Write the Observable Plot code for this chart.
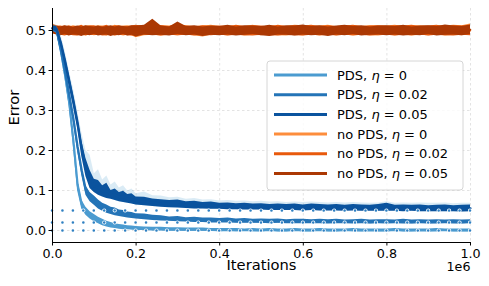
<!DOCTYPE html>
<html><head><meta charset="utf-8">
<script src="https://cdn.jsdelivr.net/npm/d3@7"></script>
<script src="https://cdn.jsdelivr.net/npm/@observablehq/plot@0.6"></script>
<style>body{margin:0;background:#fff} svg{display:block}
g[aria-label="x-axis tick label"], g[aria-label="y-axis tick label"]{font-size:12.7px !important;}
</style>
</head><body><div id="chart"></div>
<script>
// x values (iterations)
const iterations = [0,10000,20000,30000,40000,50000,60000,70000,80000,90000,
100000,110000,120000,130000,140000,150000,160000,170000,180000,190000,
200000,220000,240000,260000,280000,300000,320000,340000,360000,380000,
400000,420000,440000,460000,480000,500000,520000,540000,560000,580000,
600000,620000,640000,660000,680000,700000,720000,740000,760000,780000,
800000,820000,840000,860000,880000,900000,920000,940000,960000,980000,
1000000];

// no PDS, eta = 0
const noPds00Hi = [0.517,0.512,0.510,0.511,0.509,0.512,0.510,0.509,0.511,0.512,
0.510,0.512,0.511,0.509,0.510,0.513,0.510,0.511,0.512,0.510,
0.512,0.511,0.514,0.512,0.511,0.515,0.512,0.510,0.511,0.513,
0.510,0.512,0.511,0.510,0.513,0.509,0.512,0.511,0.510,0.513,
0.512,0.510,0.511,0.513,0.509,0.512,0.511,0.510,0.512,0.511,
0.511,0.513,0.510,0.511,0.512,0.510,0.512,0.511,0.513,0.512,
0.516];
const noPds00Lo = [0.497,0.491,0.489,0.488,0.487,0.490,0.487,0.488,0.486,0.489,
0.487,0.488,0.489,0.486,0.488,0.487,0.489,0.486,0.488,0.487,
0.482,0.487,0.488,0.486,0.489,0.487,0.488,0.487,0.484,0.488,
0.488,0.487,0.489,0.486,0.488,0.487,0.489,0.487,0.486,0.488,
0.487,0.489,0.486,0.488,0.487,0.489,0.486,0.488,0.487,0.486,
0.489,0.487,0.488,0.486,0.488,0.487,0.489,0.486,0.488,0.487,
0.489];
// no PDS, eta = 0.02
const noPds02Hi = [0.515,0.510,0.511,0.508,0.512,0.509,0.510,0.513,0.508,0.511,
0.512,0.509,0.510,0.513,0.508,0.511,0.512,0.509,0.510,0.511,
0.513,0.510,0.516,0.512,0.510,0.514,0.511,0.509,0.512,0.510,
0.511,0.509,0.513,0.510,0.512,0.511,0.509,0.513,0.510,0.512,
0.511,0.513,0.510,0.512,0.510,0.511,0.513,0.510,0.511,0.512,
0.510,0.512,0.511,0.513,0.510,0.511,0.513,0.509,0.512,0.511,
0.512];
const noPds02Lo = [0.495,0.490,0.488,0.486,0.489,0.487,0.486,0.489,0.487,0.488,
0.488,0.489,0.486,0.487,0.489,0.486,0.488,0.488,0.487,0.486,
0.487,0.488,0.489,0.486,0.488,0.487,0.489,0.486,0.488,0.487,
0.489,0.486,0.488,0.487,0.486,0.488,0.487,0.486,0.489,0.487,
0.486,0.488,0.487,0.489,0.486,0.488,0.487,0.488,0.486,0.488,
0.488,0.486,0.488,0.487,0.489,0.486,0.488,0.487,0.486,0.488,
0.487];
// no PDS, eta = 0.05
const noPds05Hi = [0.512,0.511,0.509,0.512,0.510,0.508,0.511,0.509,0.512,0.510,
0.509,0.511,0.508,0.510,0.512,0.509,0.511,0.510,0.509,0.512,
0.511,0.513,0.528,0.511,0.509,0.521,0.510,0.512,0.509,0.511,
0.510,0.513,0.509,0.512,0.511,0.510,0.513,0.509,0.512,0.511,
0.514,0.510,0.512,0.509,0.511,0.513,0.510,0.512,0.509,0.511,
0.512,0.510,0.513,0.509,0.511,0.512,0.510,0.514,0.511,0.510,
0.514];
const noPds05Lo = [0.492,0.489,0.487,0.490,0.486,0.489,0.488,0.485,0.489,0.487,
0.490,0.486,0.488,0.489,0.485,0.488,0.487,0.490,0.486,0.488,
0.484,0.489,0.487,0.488,0.486,0.490,0.487,0.489,0.485,0.488,
0.487,0.489,0.486,0.488,0.490,0.487,0.485,0.489,0.488,0.486,
0.489,0.487,0.488,0.485,0.489,0.487,0.490,0.486,0.488,0.489,
0.487,0.489,0.486,0.488,0.487,0.490,0.486,0.488,0.489,0.487,
0.490];
// PDS, eta = 0
const pds00Hi = [0.510,0.506,0.46,0.40,0.33,0.24,0.13,0.076,0.058,0.047,
0.040,0.033,0.028,0.023,0.020,0.017,0.015,0.014,0.012,0.011,
0.010,0.009,0.008,0.008,0.007,0.007,0.006,0.006,0.006,0.005,
0.005,0.005,0.005,0.004,0.005,0.004,0.005,0.004,0.004,0.005,
0.004,0.004,0.005,0.004,0.004,0.004,0.005,0.004,0.004,0.004,
0.004,0.005,0.004,0.004,0.004,0.004,0.005,0.004,0.004,0.004,
0.004];
const pds00Lo = [0.500,0.494,0.44,0.38,0.31,0.21,0.10,0.054,0.038,0.029,
0.022,0.017,0.012,0.009,0.006,0.005,0.003,0.002,0.002,0.001,
0.000,0.000,-0.001,-0.001,-0.002,-0.002,-0.002,-0.002,-0.002,-0.002,
-0.003,-0.002,-0.003,-0.002,-0.003,-0.003,-0.002,-0.003,-0.003,-0.002,
-0.003,-0.003,-0.002,-0.003,-0.003,-0.002,-0.003,-0.003,-0.002,-0.003,
-0.003,-0.002,-0.003,-0.003,-0.002,-0.003,-0.003,-0.002,-0.003,-0.003,
-0.003];
// PDS, eta = 0.02
const pds02Hi = [0.511,0.507,0.465,0.41,0.35,0.29,0.222,0.162,0.112,0.095,
0.086,0.076,0.068,0.064,0.058,0.056,0.051,0.050,0.046,0.045,
0.042,0.041,0.038,0.037,0.034,0.035,0.032,0.033,0.031,0.031,
0.030,0.031,0.029,0.030,0.028,0.029,0.028,0.029,0.027,0.028,
0.028,0.027,0.028,0.027,0.028,0.026,0.027,0.028,0.026,0.027,
0.027,0.026,0.028,0.026,0.027,0.026,0.027,0.026,0.027,0.026,
0.027];
const pds02Lo = [0.499,0.493,0.445,0.39,0.33,0.27,0.198,0.138,0.088,0.072,
0.063,0.054,0.048,0.043,0.040,0.037,0.035,0.033,0.031,0.030,
0.029,0.027,0.025,0.024,0.023,0.022,0.021,0.020,0.020,0.019,
0.019,0.019,0.018,0.018,0.018,0.018,0.017,0.018,0.017,0.017,
0.017,0.017,0.017,0.016,0.017,0.017,0.016,0.017,0.016,0.017,
0.016,0.017,0.016,0.016,0.017,0.016,0.016,0.017,0.016,0.016,
0.017];
// PDS, eta = 0.05
const pds05Hi = [0.512,0.510,0.48,0.437,0.39,0.34,0.285,0.225,0.18,0.15,
0.128,0.125,0.112,0.118,0.100,0.104,0.095,0.098,0.090,0.092,
0.084,0.083,0.079,0.077,0.075,0.076,0.072,0.073,0.070,0.071,
0.068,0.069,0.067,0.068,0.066,0.067,0.065,0.066,0.065,0.066,
0.064,0.066,0.065,0.064,0.065,0.063,0.065,0.064,0.063,0.065,
0.068,0.063,0.064,0.063,0.064,0.062,0.063,0.064,0.062,0.063,
0.064];
const pds05Lo = [0.50,0.497,0.46,0.413,0.36,0.31,0.255,0.185,0.135,0.105,
0.095,0.088,0.084,0.080,0.078,0.075,0.072,0.070,0.068,0.066,
0.064,0.062,0.060,0.058,0.057,0.056,0.055,0.054,0.054,0.053,
0.053,0.052,0.052,0.051,0.051,0.051,0.050,0.050,0.050,0.050,
0.049,0.050,0.049,0.049,0.049,0.048,0.049,0.048,0.048,0.048,
0.048,0.048,0.047,0.048,0.047,0.047,0.047,0.047,0.047,0.046,
0.047];
// upper edge of the light spread band of PDS, eta = 0.05
const pds05SpreadHi = [0.515,0.514,0.49,0.45,0.40,0.355,0.30,0.245,0.20,0.188,
0.142,0.152,0.126,0.136,0.114,0.121,0.106,0.112,0.099,0.104,
0.092,0.096,0.087,0.086,0.082,0.083,0.078,0.080,0.076,0.077,
0.074,0.075,0.073,0.074,0.072,0.073,0.071,0.072,0.070,0.071,
0.070,0.071,0.070,0.069,0.070,0.069,0.070,0.069,0.068,0.069,
0.072,0.068,0.069,0.068,0.069,0.068,0.068,0.069,0.067,0.068,
0.068];

const referenceLevels = [0, 0.02, 0.05];
const xTicks = [0, 200000, 400000, 600000, 800000, 1000000];
const yTicks = [0, 0.1, 0.2, 0.3, 0.4, 0.5];

const legendLabels = [
  {name: "PDS, ", eta: "0", color: "#4b9bd0"},
  {name: "PDS, ", eta: "0.02", color: "#2474b7"},
  {name: "PDS, ", eta: "0.05", color: "#0a539e"},
  {name: "no PDS, ", eta: "0", color: "#fd8d3c"},
  {name: "no PDS, ", eta: "0.02", color: "#e8590c"},
  {name: "no PDS, ", eta: "0.05", color: "#ab3803"}
];

const seriesData = [
  {hi: pds00Hi, lo: pds00Lo},
  {hi: pds02Hi, lo: pds02Lo},
  {hi: pds05Hi, lo: pds05Lo},
  {hi: noPds00Hi, lo: noPds00Lo},
  {hi: noPds02Hi, lo: noPds02Lo},
  {hi: noPds05Hi, lo: noPds05Lo}
];

const rowsOf = (s) => iterations.map((t, i) => ({t, lo: s.lo[i], hi: s.hi[i], mid: (s.lo[i] + s.hi[i]) / 2}));

const W = 489, H = 286;
const mL = 52, mR = 19, mT = 8, mB = 44;
const yDomain = [-0.03, 0.555];
const dotStep = (W - mL - mR) / 40;

const marks = [
  Plot.gridX(xTicks, {stroke: "#dcdcdc", strokeOpacity: 1, strokeWidth: 0.8, strokeDasharray: "2.5,2.5"}),
  Plot.gridY(yTicks, {stroke: "#dcdcdc", strokeOpacity: 1, strokeWidth: 0.8, strokeDasharray: "2.5,2.5"})
];
// orange (no PDS) first
for (const k of [3, 4, 5]) {
  const r = rowsOf(seriesData[k]);
  marks.push(Plot.areaY(r, {x: "t", y1: "lo", y2: "hi", fill: legendLabels[k].color}));
  marks.push(Plot.lineY(r, {x: "t", y: "mid", stroke: legendLabels[k].color, strokeWidth: 1.5}));
}
// spread band for PDS 0.05
marks.push(Plot.areaY(iterations.map((t, i) => ({t, lo: pds05Lo[i], hi: pds05SpreadHi[i]})),
  {x: "t", y1: "lo", y2: "hi", fill: "#6baed6", fillOpacity: 0.25}));
for (const k of [0, 1, 2]) {
  const r = rowsOf(seriesData[k]);
  marks.push(Plot.areaY(r, {x: "t", y1: "lo", y2: "hi", fill: legendLabels[k].color}));
  marks.push(Plot.lineY(r, {x: "t", y: "mid", stroke: legendLabels[k].color, strokeWidth: 2.2}));
}
// dotted reference lines
marks.push(Plot.ruleY(referenceLevels, {stroke: "white", strokeWidth: 4.2, strokeLinecap: "round", strokeDasharray: `0 ${dotStep}`}));
marks.push(Plot.ruleY(referenceLevels, {stroke: "#2f80c2", strokeWidth: 2.6, strokeLinecap: "round", strokeDasharray: `0 ${dotStep}`}));
// spines
marks.push(Plot.ruleX([0], {stroke: "black", strokeWidth: 1}));
marks.push(Plot.ruleY([yDomain[0]], {stroke: "black", strokeWidth: 1}));
// axes
marks.push(Plot.axisY(yTicks, {tickSize: 3.5, tickPadding: 3, tickFormat: d3.format(".1f"), fontSize: 12.7, label: null, stroke: "black"}));
marks.push(Plot.axisX(xTicks, {tickSize: 3.5, tickPadding: 3, tickFormat: d => (d / 1e6).toFixed(1), fontSize: 12.7, label: null, stroke: "black"}));
marks.push(Plot.text(["Iterations"], {frameAnchor: "bottom", dy: 27, fontSize: 14.7, fill: "black"}));
marks.push(Plot.text(["1e6"], {frameAnchor: "bottom-right", dy: 28.5, textAnchor: "end", fontSize: 12.7, fill: "black"}));
marks.push(Plot.text(["Error"], {frameAnchor: "left", dx: -38, rotate: -90, fontSize: 14.7, fill: "black"}));

const svgEl = Plot.plot({
  width: W, height: H,
  marginLeft: mL, marginRight: mR, marginTop: mT, marginBottom: mB,
  x: {domain: [0, 1000000], axis: null},
  y: {domain: yDomain, axis: null},
  style: {fontFamily: "DejaVu Sans", fontSize: "12.7px", color: "black", background: "white"},
  marks
});
document.getElementById("chart").appendChild(svgEl);

// legend
const svg = d3.select(svgEl);
const g = svg.append("g").attr("font-family", "DejaVu Sans").attr("font-size", 13).attr("text-anchor", "start");
g.append("rect").attr("x", 267).attr("y", 61).attr("width", 196).attr("height", 129)
  .attr("rx", 3).attr("fill", "white").attr("fill-opacity", 0.8).attr("stroke", "#cccccc").attr("stroke-width", 0.8);
legendLabels.forEach((d, i) => {
  const cy = 75 + i * 19.7;
  g.append("line").attr("x1", 274).attr("x2", 327).attr("y1", cy).attr("y2", cy)
    .attr("stroke", d.color).attr("stroke-width", 3);
  const t = g.append("text").attr("x", 337).attr("y", cy).attr("dy", "0.36em").attr("fill", "black");
  t.append("tspan").text(d.name);
  t.append("tspan").attr("font-style", "italic").text("η");
  t.append("tspan").text(" = " + d.eta);
});
</script></body></html>
